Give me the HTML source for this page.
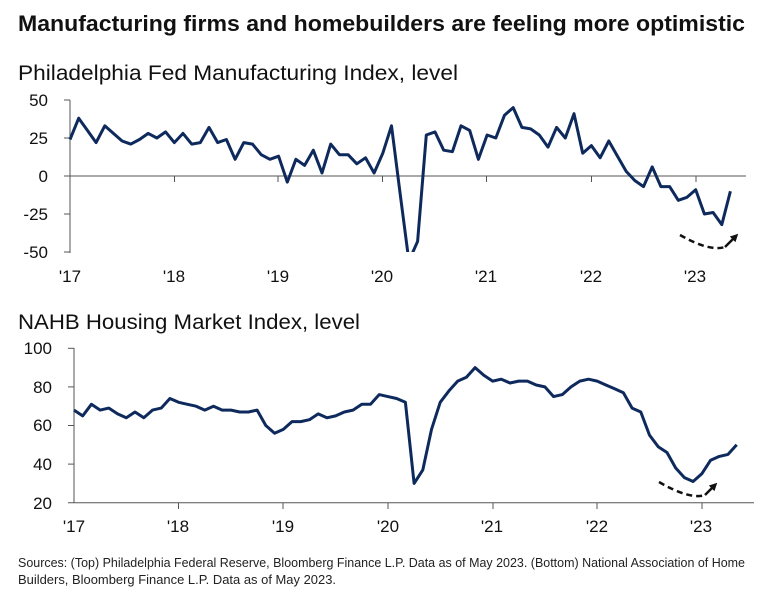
<!DOCTYPE html>
<html><head><meta charset="utf-8"><style>
body{margin:0;background:#fff;width:770px;height:597px;overflow:hidden;font-family:"Liberation Sans",sans-serif;}
</style></head><body>
<svg width="770" height="597" xmlns="http://www.w3.org/2000/svg" font-family="Liberation Sans, sans-serif">
<text x="18" y="31" font-size="22" font-weight="bold" fill="#111" textLength="727" lengthAdjust="spacingAndGlyphs">Manufacturing firms and homebuilders are feeling more optimistic</text>
<text x="18" y="80" font-size="21" fill="#111" textLength="440" lengthAdjust="spacingAndGlyphs">Philadelphia Fed Manufacturing Index, level</text>
<text x="18" y="329" font-size="21" fill="#111" textLength="342" lengthAdjust="spacingAndGlyphs">NAHB Housing Market Index, level</text>
<defs><clipPath id="c1"><rect x="60" y="90" width="700" height="162"/></clipPath>
<marker id="ar" markerUnits="userSpaceOnUse" markerWidth="8" markerHeight="8" refX="2" refY="4" orient="auto"><path d="M0,0 L8,4 L0,8 z" fill="#111"/></marker></defs>
<g font-size="17" fill="#111" text-anchor="end">
<text x="48" y="106">50</text><text x="48" y="144">25</text><text x="48" y="182">0</text><text x="48" y="220">-25</text><text x="48" y="258">-50</text>
</g>
<line x1="70" y1="100" x2="70" y2="253" stroke="#555"/>
<g stroke="#555"><line x1="64" y1="100" x2="70" y2="100"/><line x1="64" y1="138" x2="70" y2="138"/><line x1="64" y1="176" x2="70" y2="176"/><line x1="64" y1="214" x2="70" y2="214"/><line x1="64" y1="252" x2="70" y2="252"/></g>
<line x1="70" y1="176" x2="746" y2="176" stroke="#555"/>
<g stroke="#555"><line x1="174.5" y1="176" x2="174.5" y2="182"/><line x1="278" y1="176" x2="278" y2="182"/><line x1="382.5" y1="176" x2="382.5" y2="182"/><line x1="486.5" y1="176" x2="486.5" y2="182"/><line x1="591.5" y1="176" x2="591.5" y2="182"/><line x1="696" y1="176" x2="696" y2="182"/></g>
<g font-size="17" fill="#111" text-anchor="middle">
<text x="70" y="282">'17</text><text x="174" y="282">'18</text><text x="278" y="282">'19</text><text x="382" y="282">'20</text><text x="486" y="282">'21</text><text x="591" y="282">'22</text><text x="695" y="282">'23</text>
</g>
<polyline id="p1" clip-path="url(#c1)" fill="none" stroke="#0e2a5c" stroke-width="3" stroke-linejoin="round" points=""/>
<path d="M680,235 Q710,252 725,247" fill="none" stroke="#111" stroke-width="2.5" stroke-dasharray="6,4"/>
<path d="M725,247 L734,238" fill="none" stroke="#111" stroke-width="2.5" marker-end="url(#ar)"/>

<g font-size="17" fill="#111" text-anchor="end">
<text x="52" y="354">100</text><text x="52" y="393">80</text><text x="52" y="431">60</text><text x="52" y="470">40</text><text x="52" y="509">20</text>
</g>
<line x1="74" y1="348" x2="74" y2="503" stroke="#555"/>
<g stroke="#555"><line x1="68" y1="348.3" x2="74" y2="348.3"/><line x1="68" y1="386.9" x2="74" y2="386.9"/><line x1="68" y1="425.5" x2="74" y2="425.5"/><line x1="68" y1="464.1" x2="74" y2="464.1"/></g>
<line x1="68" y1="502.7" x2="754" y2="502.7" stroke="#555"/>
<g stroke="#555"><line x1="178.5" y1="503" x2="178.5" y2="509"/><line x1="283" y1="503" x2="283" y2="509"/><line x1="388" y1="503" x2="388" y2="509"/><line x1="493" y1="503" x2="493" y2="509"/><line x1="597" y1="503" x2="597" y2="509"/><line x1="702" y1="503" x2="702" y2="509"/></g>
<g font-size="17" fill="#111" text-anchor="middle">
<text x="74" y="532">'17</text><text x="178" y="532">'18</text><text x="283" y="532">'19</text><text x="388" y="532">'20</text><text x="492" y="532">'21</text><text x="597" y="532">'22</text><text x="701" y="532">'23</text>
</g>
<polyline id="p2" fill="none" stroke="#0e2a5c" stroke-width="3" stroke-linejoin="round" points=""/>
<path d="M659,482 Q690,500 705,495" fill="none" stroke="#111" stroke-width="2.5" stroke-dasharray="6,4"/>
<path d="M705,495 L713,487" fill="none" stroke="#111" stroke-width="2.5" marker-end="url(#ar)"/>

<text x="18" y="567" font-size="12.5" fill="#222" textLength="727" lengthAdjust="spacingAndGlyphs">Sources: (Top) Philadelphia Federal Reserve, Bloomberg Finance L.P. Data as of May 2023. (Bottom) National Association of Home</text>
<text x="18" y="584" font-size="12.5" fill="#222" textLength="318" lengthAdjust="spacingAndGlyphs">Builders, Bloomberg Finance L.P. Data as of May 2023.</text>
</svg>
<script>
var a=[24,38,30,22,33,28,23,21,24,28,25,29,22,28,21,22,32,22,24,11,22,21,14,11,13,-4,11,7,17,2,21,14,14,8,12,2,15,33,-12,-56,-43,27,29,17,16,33,30,11,27,25,40,45,32,31,27,19,32,25,41,15,20,12,23,13,3,-3,-7,6,-7,-7,-16,-14,-9,-25,-24,-32,-10];
var b=[68,65,71,68,69,66,64,67,64,68,69,74,72,71,70,68,70,68,68,67,67,68,60,56,58,62,62,63,66,64,65,67,68,71,71,76,75,74,72,30,37,58,72,78,83,85,90,86,83,84,82,83,83,81,80,75,76,80,83,84,83,81,79,77,69,67,55,49,46,38,33,31,35,42,44,45,50];
document.getElementById('p1').setAttribute('points',a.map(function(v,i){return (70+i*8.69).toFixed(1)+','+(176-v*1.52).toFixed(1)}).join(' '));
document.getElementById('p2').setAttribute('points',b.map(function(v,i){return (74+i*8.72).toFixed(1)+','+(502.7-(v-20)*1.93).toFixed(1)}).join(' '));
</script>
</body></html>
